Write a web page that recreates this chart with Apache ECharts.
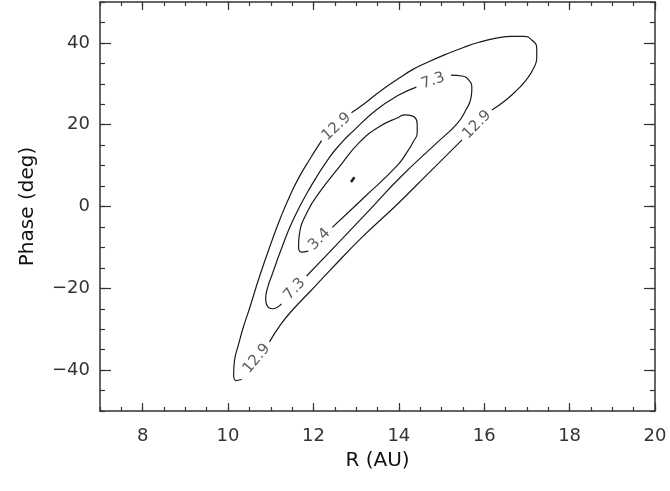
<!DOCTYPE html>
<html>
<head>
<meta charset="utf-8">
<script src="https://cdn.jsdelivr.net/npm/echarts@6/dist/echarts.min.js"></script>
<style>
  html, body { margin: 0; padding: 0; background: #fff; }
  #main { width: 670px; height: 491px; }
</style>
</head>
<body>
<div id="main"></div>
<script>
// tick labels
const xMajor = [8, 10, 12, 14, 16, 18, 20];
const yMajor = [-40, -20, 0, 20, 40];

// contour 12.9, split at its three labels
const outerA = [[10.32,-42.3],[10.18,-42.55],[10.13,-41.1],[10.15,-37.7],[10.25,-33.55],[10.36,-29.4],[10.50,-25.0],[10.74,-17.0],[11.04,-8.0],[11.25,-2.2],[11.46,2.9],[11.67,7.3],[11.91,11.5],[12.19,16.1]];
const outerB = [[12.89,22.9],[13.19,25.1],[13.54,28.0],[14.01,31.4],[14.31,33.4],[14.64,35.1],[15.11,37.25],[15.53,38.95],[15.88,40.15],[16.28,41.15],[16.65,41.6],[16.93,41.6],[17.12,40.65],[17.23,38.7],[17.23,36.3],[17.16,33.85],[16.98,30.9],[16.77,28.5],[16.51,26.05],[16.18,23.6]];
const outerC = [[15.48,16.3],[14.71,8.3],[13.94,0.3],[13.14,-7.5],[12.37,-15.8],[11.91,-20.9],[11.51,-25.3],[11.23,-28.9],[10.97,-33.1]];

// contour 7.3
const midA = [[11.25,-23.8],[11.04,-25.0],[10.93,-24.55],[10.88,-22.6],[10.93,-19.7],[11.02,-17.0],[11.23,-10.9],[11.53,-3.1],[11.95,5.1],[12.37,11.95],[12.68,15.85],[12.91,18.25],[13.47,23.6],[14.01,27.3],[14.41,29.2]];
const midB = [[15.22,32.1],[15.48,31.9],[15.64,30.9],[15.71,29.0],[15.69,26.55],[15.57,23.6],[15.36,20.2],[14.92,15.85],[14.03,7.1],[13.26,-1.45],[12.37,-11.2],[11.84,-17.0]];

// contour 3.4
const innerA = [[12.44,-5.1],[13.21,2.45],[13.96,10.0],[14.20,13.4],[14.34,15.85],[14.43,18.0],[14.43,20.2],[14.31,22.15],[14.13,22.4],[14.01,21.9],[13.54,19.5],[13.07,15.6],[12.61,9.75],[12.14,3.45],[11.86,-1.2],[11.67,-6.8],[11.65,-9.7],[11.72,-11.15],[11.88,-10.9]];

// minimum marker
const centerMark = [[12.88,6.0],[12.96,7.15]];

// contour labels
const labelPoints = [[12.54,19.5],[15.83,20.0],[10.67,-37.2],[14.80,30.7],[11.56,-20.2],[12.14,-8.0]];
const labelTexts = ['12.9', '12.9', '12.9', '7.3', '7.3', '3.4'];
const labelAngles = [43, 45, 50, 19, 48, 45];

const chart = echarts.init(document.getElementById('main'));

const tickColor = '#333';
const labelFont = 'DejaVu Sans';

function xAxis(pos, long) {
  const ax = {
    type: 'value', min: 7, max: 20, interval: 0.5, position: pos,
    axisLine: { show: !long, onZero: false, lineStyle: { color: tickColor, width: 1.5 } },
    axisTick: { show: true, inside: true, length: long ? 8 : 4, lineStyle: { color: tickColor, width: 1.2 } },
    axisLabel: { show: false },
    splitLine: { show: false }
  };
  if (long) ax.axisTick.customValues = xMajor;
  if (pos === 'bottom' && !long) {
    ax.axisLabel = { show: true, customValues: xMajor, margin: 16, fontSize: 18, color: '#333', fontFamily: labelFont };
    ax.name = 'R (AU)';
    ax.nameLocation = 'middle';
    ax.nameGap = 40;
    ax.nameTextStyle = { fontSize: 20, color: '#111', fontFamily: labelFont };
  }
  return ax;
}

function yAxis(pos, long) {
  const ax = {
    type: 'value', min: -50, max: 50, interval: 5, position: pos,
    axisLine: { show: !long, onZero: false, lineStyle: { color: tickColor, width: 1.5 } },
    axisTick: { show: true, inside: true, length: long ? 11 : 5, lineStyle: { color: tickColor, width: 1.2 } },
    axisLabel: { show: false },
    splitLine: { show: false }
  };
  if (long) ax.axisTick.customValues = yMajor;
  if (pos === 'left' && !long) {
    ax.axisLabel = {
      show: true, customValues: yMajor, margin: 10, fontSize: 18, color: '#333', fontFamily: labelFont,
      formatter: v => String(v).replace('-', '\u2212')
    };
    ax.name = 'Phase (deg)';
    ax.nameLocation = 'middle';
    ax.nameGap = 62;
    ax.nameTextStyle = { fontSize: 20, color: '#111', fontFamily: labelFont };
  }
  return ax;
}

function contour(data) {
  return {
    type: 'line', data: data, xAxisIndex: 0, yAxisIndex: 0,
    showSymbol: false, symbol: 'none', smooth: 0.5, silent: true,
    lineStyle: { color: '#1a1a1a', width: 1.2 }
  };
}

const series = [outerA, outerB, outerC, midA, midB, innerA].map(contour);
series.push({
  type: 'line', data: centerMark, showSymbol: false, symbol: 'none', silent: true,
  lineStyle: { color: '#1a1a1a', width: 2.5 }
});
series.push({
  type: 'scatter', symbolSize: 0, silent: true,
  data: labelPoints.map((p, i) => ({
    value: p,
    label: { formatter: labelTexts[i], rotate: labelAngles[i] }
  })),
  label: { show: true, position: 'inside', fontSize: 15, color: '#333', fontFamily: labelFont }
});

chart.setOption({
  animation: false,
  backgroundColor: '#fff',
  grid: { left: 100, right: 15, top: 2, bottom: 80 },
  xAxis: [xAxis('bottom', false), xAxis('bottom', true), xAxis('top', false), xAxis('top', true)],
  yAxis: [yAxis('left', false), yAxis('left', true), yAxis('right', false), yAxis('right', true)],
  series: series
});
</script>
</body>
</html>
